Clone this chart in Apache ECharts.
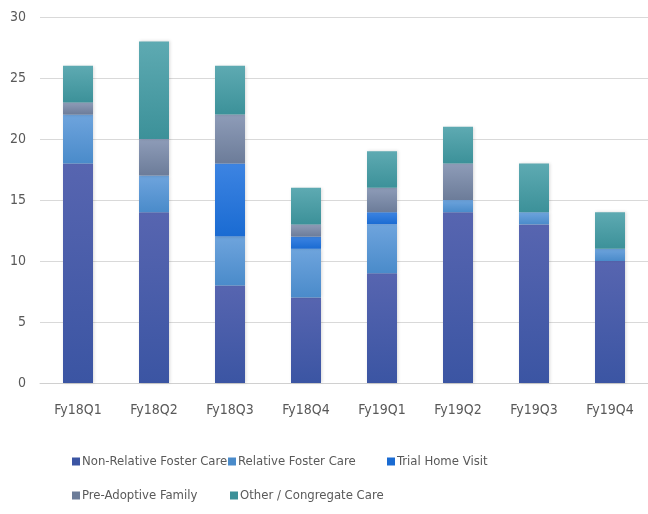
<!DOCTYPE html>
<html>
<head>
<meta charset="utf-8">
<script src="https://cdn.jsdelivr.net/npm/echarts@6/dist/echarts.min.js"></script>
<style>
  html, body { margin: 0; padding: 0; background: #fff; }
  #main { width: 648px; height: 514px; }
</style>
</head>
<body>
<div id="main"></div>
<script>
// quarters on the x axis
var quarters = ['Fy18Q1', 'Fy18Q2', 'Fy18Q3', 'Fy18Q4', 'Fy19Q1', 'Fy19Q2', 'Fy19Q3', 'Fy19Q4'];

// placement counts
var nonRelative = [18, 14, 8, 7, 9, 14, 13, 10];
var relative    = [4, 3, 4, 4, 4, 1, 1, 1];
var trialHome   = [0, 0, 6, 1, 1, 0, 0, 0];
var preAdoptive = [1, 3, 4, 1, 2, 3, 0, 0];
var otherCare   = [3, 8, 4, 3, 3, 3, 4, 3];

var yTicks = [0, 5, 10, 15, 20, 25, 30];

var names = ['Non-Relative Foster Care', 'Relative Foster Care', 'Trial Home Visit',
             'Pre-Adoptive Family', 'Other / Congregate Care'];
var values = [nonRelative, relative, trialHome, preAdoptive, otherCare];
// top / bottom shade of each segment
var shades = [
  ['#5765b0', '#3b55a3'],
  ['#6ea4dd', '#4a8bca'],
  ['#3d84e2', '#1a6bd2'],
  ['#8e9cb8', '#6c7c99'],
  ['#5eaab2', '#3c9199']
];
var legendPos = [[67, 450], [223, 450], [382, 450], [67, 484], [225, 484]];

var textGray = '#595959';
var font = '"Liberation Sans Narrow", "DejaVu Sans Condensed", "Open Sans", sans-serif';

function grad(c) {
  return new echarts.graphic.LinearGradient(0, 0, 0, 1, [
    { offset: 0, color: c[0] },
    { offset: 1, color: c[1] }
  ]);
}

var series = names.map(function (n, i) {
  return {
    name: n,
    type: 'bar',
    stack: 'total',
    barWidth: 30,
    data: values[i],
    itemStyle: {
      color: grad(shades[i]),
      shadowColor: 'rgba(0,0,0,0.15)',
      shadowBlur: 3,
      shadowOffsetX: 1,
      shadowOffsetY: 0
    }
  };
});

var legends = names.map(function (n, i) {
  return {
    data: [n],
    left: legendPos[i][0],
    top: legendPos[i][1],
    itemWidth: 8,
    itemHeight: 8,
    itemGap: 0,
    icon: 'rect',
    selectedMode: false,
    textStyle: { color: textGray, fontSize: 13, fontFamily: font, padding: [0, 0, 0, -3] },
    itemStyle: { color: shades[i][1] }
  };
});

var myChart = echarts.init(document.getElementById('main'));
var option = {
  animation: false,
  backgroundColor: '#ffffff',
  legend: legends,
  grid: { left: 40, top: 17, width: 612, height: 366 },
  xAxis: {
    type: 'category',
    data: quarters,
    axisLine: { lineStyle: { color: '#d0d0d0' } },
    axisTick: { show: false },
    axisLabel: { color: textGray, fontSize: 14, fontFamily: font, margin: 20 }
  },
  yAxis: {
    type: 'value',
    min: yTicks[0],
    max: yTicks[yTicks.length - 1],
    interval: 5,
    axisLine: { show: false },
    axisTick: { show: false },
    splitLine: { lineStyle: { color: '#d9d9d9', width: 1 } },
    axisLabel: { color: textGray, fontSize: 14, fontFamily: font, margin: 14 }
  },
  series: series
};
myChart.setOption(option);
</script>
</body>
</html>
